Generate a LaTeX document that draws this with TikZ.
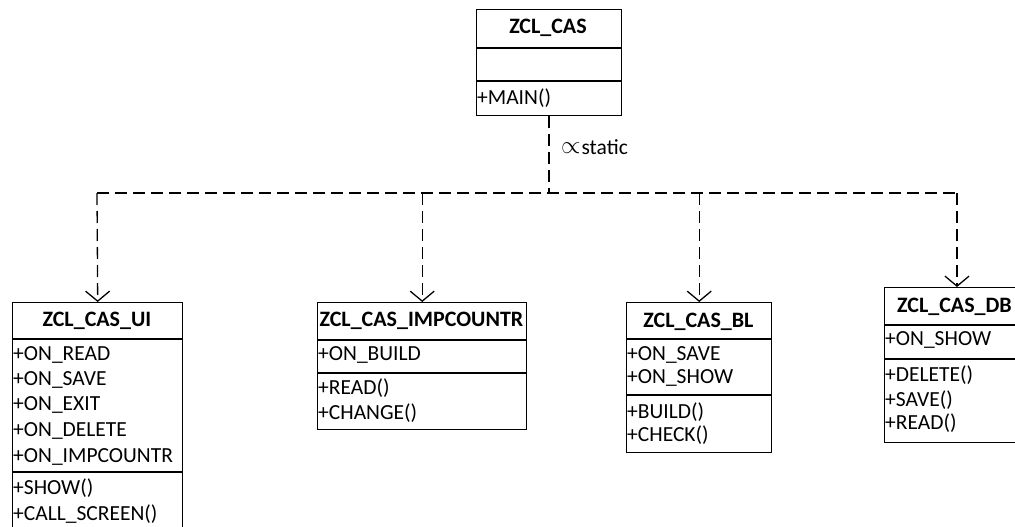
\documentclass[tikz,border=0pt]{standalone}
\usepackage{fontspec}
\setmainfont{Carlito}
\usetikzlibrary{arrows.meta}
\begin{document}
\begin{tikzpicture}[x=1pt,y=-1pt,
  classbox/.style={draw, line width=1.4pt, rectangle, inner sep=0pt, anchor=north west},
  sep/.style={line width=1.4pt},
  title/.style={font=\fontsize{22}{26}\selectfont\bfseries, inner sep=0pt},
  attr/.style={font=\fontsize{21.5}{25}\selectfont, inner sep=0pt, anchor=west},
  dashline/.style={line width=1.3pt, dash pattern=on 12pt off 6pt},
  dep/.style={dashline, -{Straight Barb[length=10pt,width=24pt,line width=1.3pt]}}]
\useasboundingbox (0,0) rectangle (1015,527);
\clip (0,0) rectangle (1015,527);
% ZCL_CAS
\node[classbox, minimum width=145pt, minimum height=106pt] (cas) at (476,9) {};
\draw[sep] (476,48) -- (621,48);
\draw[sep] (476,81) -- (621,81);
\node[title] (castitle) at (548,28) {ZCL\_CAS};
\node[attr] (casmain) at (477,98) {+MAIN()};
% ZCL_CAS_UI
\node[classbox, minimum width=170pt, minimum height=240pt] (ui) at (12,302) {};
\draw[sep] (12,339) -- (182,339);
\draw[sep] (12,472) -- (182,472);
\node[title] (uititle) at (97,321) {ZCL\_CAS\_UI};
\node[attr] (ui1) at (13,355) {+ON\_READ};
\node[attr] (ui2) at (13,380) {+ON\_SAVE};
\node[attr] (ui3) at (13,405) {+ON\_EXIT};
\node[attr] (ui4) at (13,431) {+ON\_DELETE};
\node[attr] (ui5) at (13,457) {+ON\_IMPCOUNTR};
\node[attr] (ui6) at (13,488) {+SHOW()};
\node[attr] (ui7) at (13,514) {+CALL\_SCREEN()};
% ZCL_CAS_IMPCOUNTR
\node[classbox, minimum width=209pt, minimum height=127pt] (imp) at (317,302) {};
\draw[sep] (317,340) -- (526,340);
\draw[sep] (317,373) -- (526,373);
\node[title] (imptitle) at (421.5,321) {ZCL\_CAS\_IMPCOUNTR};
\node[attr] (imp1) at (318,355) {+ON\_BUILD};
\node[attr] (imp2) at (318,388) {+READ()};
\node[attr] (imp3) at (318,413) {+CHANGE()};
% ZCL_CAS_BL
\node[classbox, minimum width=145pt, minimum height=150pt] (bl) at (626,302) {};
\draw[sep] (626,339) -- (771,339);
\draw[sep] (626,395) -- (771,395);
\node[title] (bltitle) at (698.5,322) {ZCL\_CAS\_BL};
\node[attr] (bl1) at (627,355) {+ON\_SAVE};
\node[attr] (bl2) at (627,378) {+ON\_SHOW};
\node[attr] (bl3) at (627,412) {+BUILD()};
\node[attr] (bl4) at (627,435) {+CHECK()};
% ZCL_CAS_DB
\node[classbox, minimum width=141pt, minimum height=155pt] (db) at (884,287) {};
\draw[sep] (884,325) -- (1025,325);
\draw[sep] (884,359) -- (1025,359);
\node[title] (dbtitle) at (954.5,307) {ZCL\_CAS\_DB};
\node[attr] (db1) at (885,340) {+ON\_SHOW};
\node[attr] (db2) at (885,375) {+DELETE()};
\node[attr] (db3) at (885,400) {+SAVE()};
\node[attr] (db4) at (885,423) {+READ()};
% connectors
\coordinate (hub) at (549,193);
\coordinate (hl) at (97,193);
\coordinate (hr) at (957,193);
\draw[dashline] (cas.south -| hub) -- (hub);
\draw[dashline] (hl) -- (hr);
\draw[dep] (hl) -- (ui.north);
\draw[dep] (imp.north |- hub) -- (imp.north);
\draw[dep] (bl.north |- hub) -- (bl.north);
\draw[dep] (hr) -- (hr |- db.north);
\node[attr] (lbl) at (561,147) {\raisebox{0.5pt}{\fontsize{26}{26}\selectfont$\propto$}\hspace{1pt}static};
\end{tikzpicture}
\end{document}
